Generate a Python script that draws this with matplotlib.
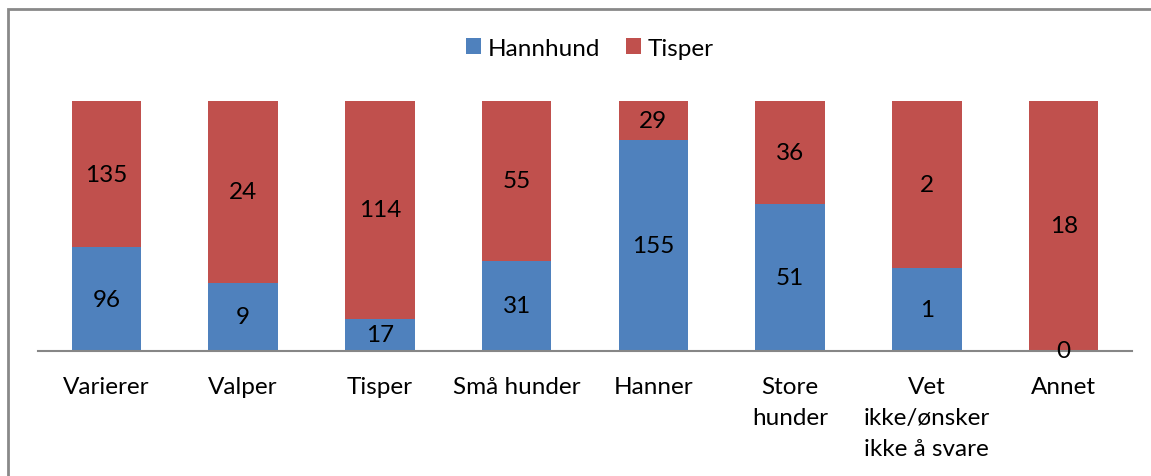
import numpy as np
import matplotlib.pyplot as plt
from matplotlib.patches import Rectangle

categories = ["Varierer", "Valper", "Tisper", "Små hunder", "Hanner",
              "Store\nhunder", "Vet\nikke/ønsker\nikke å svare", "Annet"]
hannhund = [96, 9, 17, 31, 155, 51, 1, 0]
tisper = [135, 24, 114, 55, 29, 36, 2, 18]

blue = "#4f81bd"
red = "#c0504d"
fs = 17.5

plt.rcParams['font.family'] = ['Lato', 'DejaVu Sans']

h = np.array(hannhund, dtype=float)
t = np.array(tisper, dtype=float)
tot = h + t
hp = h / tot * 100
tp = t / tot * 100
x = np.arange(len(categories))

fig = plt.figure(figsize=(11.51, 4.77), dpi=100)
# cadre gris autour du graphique
fig.patches.append(Rectangle((8 / 1151, -0.1), 1.2, 1.1 - 10 / 477, transform=fig.transFigure,
                             fill=False, edgecolor="#898989", linewidth=2))
ax = fig.add_axes([38 / 1151, 125 / 477, 1094 / 1151, 250 / 477])

ax.bar(x, hp, width=0.51, color=blue, label="Hannhund")
ax.bar(x, tp, width=0.51, bottom=hp, color=red, label="Tisper")

for i in range(len(x)):
    ax.text(x[i], hp[i] / 2, str(hannhund[i]), ha="center", va="center", fontsize=fs, color="black")
    ax.text(x[i], hp[i] + tp[i] / 2, str(tisper[i]), ha="center", va="center", fontsize=fs, color="black")

ax.set_xlim(-0.5, len(x) - 0.5)
ax.set_ylim(0, 100)
ax.set_yticks([])
ax.set_xticks(x)
ax.set_xticklabels(categories, fontsize=fs, linespacing=1.6)
ax.tick_params(axis="x", length=0, pad=18)
for s in ["top", "right", "left"]:
    ax.spines[s].set_visible(False)
ax.spines["bottom"].set_color("#868686")
ax.spines["bottom"].set_linewidth(1.5)

ax.legend(loc="center", bbox_to_anchor=(590 / 1151, 1 - 49 / 477), bbox_transform=fig.transFigure,
          ncol=2, frameon=False, fontsize=fs, handlelength=0.6, handleheight=0.6,
          handletextpad=0.3, columnspacing=1.05)

fig.savefig("out.png", dpi=100)
